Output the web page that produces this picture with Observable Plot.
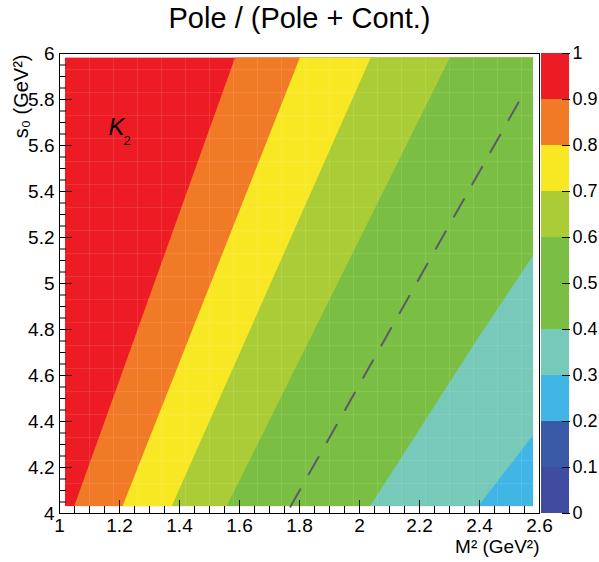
<!DOCTYPE html>
<html><head><meta charset="utf-8">
<script src="https://cdn.jsdelivr.net/npm/d3@7"></script>
<script src="https://cdn.jsdelivr.net/npm/@observablehq/plot@0.6"></script>
<style>
body{margin:0;background:#fff;}
#wrap{position:relative;width:599px;height:562px;font-family:"Liberation Sans",Arial,sans-serif;overflow:hidden;}
#title{position:absolute;top:2px;left:0;width:599px;text-align:center;font-size:29px;color:#000;}
#main{position:absolute;left:0;top:0;}
#bar{position:absolute;left:541px;top:0;}
</style></head><body>
<div id="wrap"><div id="main"></div><div id="bar"></div><div id="title">Pole / (Pole + Cont.)</div></div>
<script>
// ---- data ----
const thresholds = [0.1, 0.2, 0.3, 0.4, 0.5, 0.6, 0.7, 0.8, 0.9];
const bandColors = ["#3f4c9f", "#3a5aa8", "#40b6e7", "#77c9b9", "#7abf43", "#7abf43", "#aacd37", "#f8e824", "#f17a27", "#ed1c24"];
const bandLower = [0, 0.1, 0.2, 0.3, 0.4, 0.5, 0.6, 0.7, 0.8, 0.9];
const bandUpper = [0.1, 0.2, 0.3, 0.4, 0.5, 0.6, 0.7, 0.8, 0.9, 1.0];
const barTicks = [0, 0.1, 0.2, 0.3, 0.4, 0.5, 0.6, 0.7, 0.8, 0.9, 1];

// extent of the filled (histogram) region
const mFill = [1.02, 2.58];
const sFill = [4.03, 5.98];

// contour boundaries (level, s0, M2)
const contourLevel = [0.9, 0.9, 0.8, 0.8, 0.7, 0.7, 0.6, 0.6, 0.4, 0.4, 0.4, 0.3, 0.3];
const contourS0    = [4.03, 5.98, 4.03, 5.98, 4.03, 5.98, 4.03, 5.98, 4.03, 4.751, 5.12, 4.03, 4.338];
const contourM2    = [1.051, 1.587, 1.212, 1.803, 1.376, 2.039, 1.559, 2.303, 2.037, 2.392, 2.58, 2.398, 2.58];

// dashed contour (0.5)
const dashS0 = [4.03, 5.85];
const dashM2 = [1.77, 2.557];

const xMajor = [1, 1.2, 1.4, 1.6, 1.8, 2, 2.2, 2.4, 2.6];
const yMajor = [4, 4.2, 4.4, 4.6, 4.8, 5, 5.2, 5.4, 5.6, 5.8, 6];
const xMinor = d3.range(1, 2.6001, 0.05);
const yMinor = d3.range(4, 6.0001, 0.05);
const gridM = d3.range(1.10, 2.56, 0.08);
const gridS = d3.range(4.13, 5.96, 0.1);

const titleText = "Pole / (Pole + Cont.)";
const xTitle = "M² (GeV²)";
const yTitle = "s₀ (GeV²)";
const kLabel = {m2: 1.163, s0: 5.644};

// ---- build ----
const rows = contourLevel.map((l, i) => ({level: l, s0: contourS0[i], m2: contourM2[i]}));
const dashRows = dashS0.map((s, i) => ({s0: s, m2: dashM2[i]}));
const colorOpts = {type: "threshold", domain: thresholds, range: bandColors};
const fmt = d => String(Math.round(d * 10) / 10);
const font = '"Liberation Sans", Arial, sans-serif';

const main = Plot.plot({
  width: 599, height: 562,
  marginLeft: 59, marginRight: 60, marginTop: 53, marginBottom: 49,
  x: {domain: [1, 2.6]},
  y: {domain: [4, 6]},
  color: colorOpts,
  style: {fontFamily: font, fontSize: "19px", color: "black", background: "transparent", overflow: "visible"},
  marks: [
    Plot.rect([0.95], {x1: mFill[0], x2: mFill[1], y1: sFill[0], y2: sFill[1], fill: d => d}),
    Plot.areaX(rows, {y: "s0", x1: "m2", x2: mFill[1], z: "level", fill: d => d.level - 0.05, curve: "linear"}),
    Plot.ruleX(gridM, {x: d => d, y1: sFill[0], y2: sFill[1], stroke: "white", strokeOpacity: 0.1}),
    Plot.ruleY(gridS, {y: d => d, x1: mFill[0], x2: mFill[1], stroke: "white", strokeOpacity: 0.1}),
    Plot.line(dashRows, {x: "m2", y: "s0", stroke: "#5b5a6d", strokeWidth: 2, strokeDasharray: "20,17"}),
    Plot.text(["K"], {x: kLabel.m2, y: kLabel.s0, fontStyle: "italic", fontSize: 24, textAnchor: "start", lineAnchor: "bottom"}),
    Plot.text(["2"], {x: kLabel.m2, y: kLabel.s0, dx: 15, dy: 10, fontSize: 13, textAnchor: "start", lineAnchor: "bottom"}),
    Plot.frame({stroke: "black", strokeWidth: 1}),
    Plot.axisX({ticks: xMajor, tickSize: -13, fill: "none", label: null}),
    Plot.axisX({ticks: xMinor, tickSize: -7, fill: "none", label: null}),
    Plot.axisX({ticks: xMajor, tickSize: 0, tickPadding: 5, tickFormat: fmt, label: null}),
    Plot.axisY({ticks: yMajor, tickSize: -13, fill: "none", label: null}),
    Plot.axisY({ticks: yMinor, tickSize: -7, fill: "none", label: null}),
    Plot.axisY({ticks: yMajor, tickSize: 0, tickPadding: 5, tickFormat: fmt, label: null}),
    Plot.text([xTitle], {frameAnchor: "bottom-right", dy: 39, textAnchor: "end", fontSize: 19}),
    Plot.text([yTitle], {frameAnchor: "top-left", rotate: -90, dx: -46, dy: 1, textAnchor: "end", fontSize: 20})
  ]
});
document.getElementById("main").appendChild(main);

const bar = Plot.plot({
  width: 58, height: 562,
  marginLeft: 0, marginRight: 30, marginTop: 53, marginBottom: 49,
  x: {domain: [0, 1], axis: null},
  y: {domain: [0, 1]},
  color: colorOpts,
  style: {fontFamily: font, fontSize: "18px", color: "black", background: "transparent", overflow: "visible"},
  marks: [
    Plot.rect(bandLower, {x1: 0, x2: 1, y1: d => d, y2: (d, i) => bandUpper[i], fill: d => d + 0.05}),
    Plot.axisY({anchor: "right", ticks: barTicks, tickSize: -8, fill: "none", label: null}),
    Plot.axisY({anchor: "right", ticks: barTicks, tickSize: 0, tickPadding: 3, tickFormat: fmt, label: null})
  ]
});
document.getElementById("bar").appendChild(bar);
document.getElementById("title").textContent = titleText;
</script></body></html>
